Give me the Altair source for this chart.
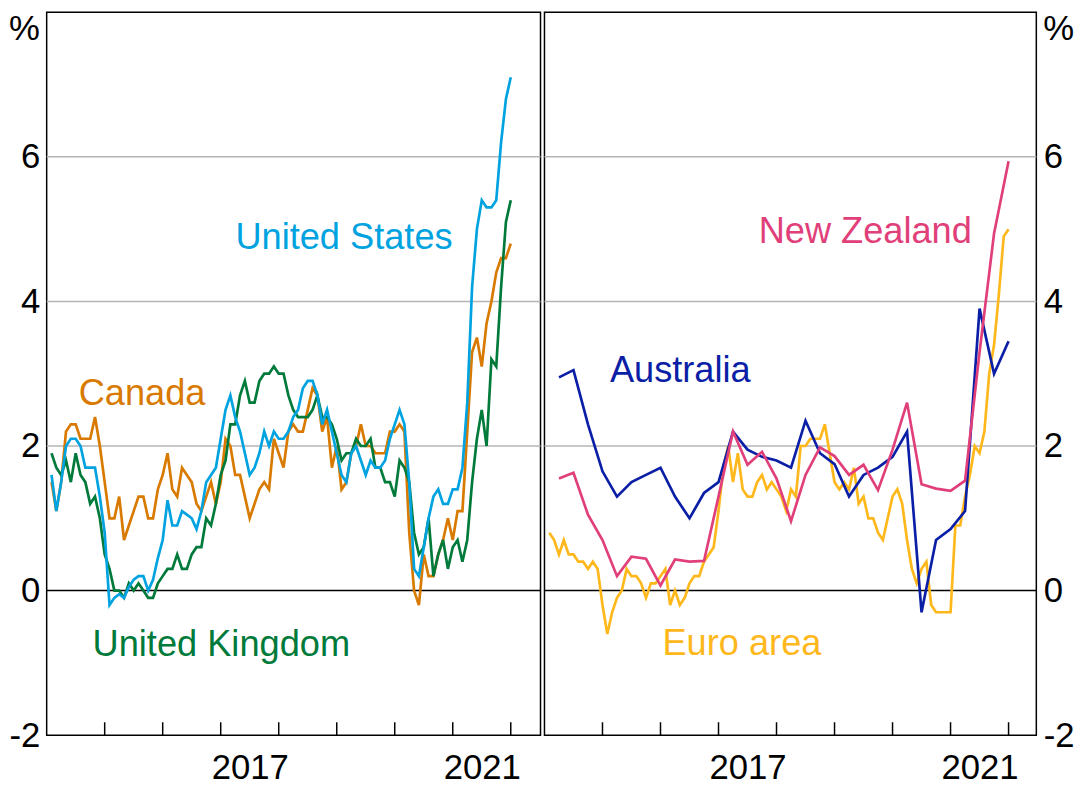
import altair as alt
import pandas as pd

# ---------------- data (year-ended % change) ----------------
# monthly, Jan 2014 .. Dec 2021
united_states = [1.6, 1.1, 1.5, 2.0, 2.1, 2.1, 2.0, 1.7, 1.7, 1.7, 1.3, 0.8,
                 -0.2, -0.1, -0.05, -0.1, 0.05, 0.15, 0.2, 0.2, 0.0, 0.15, 0.45, 0.7,
                 1.25, 0.9, 0.9, 1.1, 1.05, 1.0, 0.85, 1.1, 1.5, 1.6, 1.7, 2.1,
                 2.5, 2.7, 2.4, 2.2, 1.9, 1.6, 1.7, 1.9, 2.2, 2.0, 2.2, 2.1,
                 2.1, 2.2, 2.4, 2.5, 2.8, 2.9, 2.9, 2.7, 2.3, 2.5, 2.2, 1.9,
                 1.6, 1.5, 1.9, 2.0, 1.8, 1.6, 1.8, 1.7, 1.7, 1.8, 2.1, 2.3,
                 2.5, 2.3, 1.5, 0.3, 0.2, 0.6, 1.0, 1.3, 1.4, 1.2, 1.2, 1.4,
                 1.4, 1.7, 2.6, 4.2, 5.0, 5.4, 5.3, 5.3, 5.4, 6.2, 6.8, 7.1]
canada = [1.5, 1.1, 1.5, 2.2, 2.3, 2.3, 2.1, 2.1, 2.1, 2.4, 2.0, 1.5,
          1.0, 1.0, 1.3, 0.7, 0.9, 1.1, 1.3, 1.3, 1.0, 1.0, 1.4, 1.6,
          1.9, 1.4, 1.3, 1.7, 1.6, 1.5, 1.2, 1.1, 1.3, 1.5, 1.2, 1.5,
          2.1, 2.0, 1.6, 1.6, 1.3, 1.0, 1.2, 1.4, 1.5, 1.4, 2.1, 1.9,
          1.7, 2.2, 2.3, 2.2, 2.2, 2.5, 2.8, 2.7, 2.2, 2.4, 1.7, 2.0,
          1.4, 1.5, 1.9, 2.0, 2.3, 2.0, 2.0, 1.9, 1.9, 1.9, 2.2, 2.2,
          2.3, 2.2, 0.8, 0.0, -0.2, 0.5, 0.2, 0.2, 0.5, 0.7, 1.0, 0.7,
          1.1, 1.1, 2.2, 3.3, 3.5, 3.1, 3.7, 4.0, 4.4, 4.6, 4.6, 4.8]
united_kingdom = [1.9, 1.7, 1.6, 1.8, 1.5, 1.9, 1.6, 1.5, 1.2, 1.3, 1.0, 0.5,
                  0.3, 0.0, 0.0, -0.1, 0.1, 0.0, 0.1, 0.0, -0.1, -0.1, 0.1, 0.2,
                  0.3, 0.3, 0.5, 0.3, 0.3, 0.5, 0.6, 0.6, 1.0, 0.9, 1.2, 1.6,
                  1.8, 2.3, 2.3, 2.7, 2.9, 2.6, 2.6, 2.9, 3.0, 3.0, 3.1, 3.0,
                  3.0, 2.7, 2.5, 2.4, 2.4, 2.4, 2.5, 2.7, 2.4, 2.4, 2.3, 2.1,
                  1.8, 1.9, 1.9, 2.1, 2.0, 2.0, 2.1, 1.7, 1.7, 1.5, 1.5, 1.3,
                  1.8, 1.7, 1.5, 0.8, 0.5, 0.6, 1.0, 0.2, 0.5, 0.7, 0.3, 0.6,
                  0.7, 0.4, 0.7, 1.5, 2.1, 2.5, 2.0, 3.2, 3.1, 4.2, 5.1, 5.4]
euro_area = [0.8, 0.7, 0.5, 0.7, 0.5, 0.5, 0.4, 0.4, 0.3, 0.4, 0.3, -0.2,
             -0.6, -0.3, -0.1, 0.0, 0.3, 0.2, 0.2, 0.1, -0.1, 0.1, 0.1, 0.2,
             0.3, -0.2, 0.0, -0.2, -0.1, 0.1, 0.2, 0.2, 0.4, 0.5, 0.6, 1.1,
             1.7, 2.0, 1.5, 1.9, 1.4, 1.3, 1.3, 1.5, 1.6, 1.4, 1.5, 1.4,
             1.3, 1.1, 1.4, 1.3, 2.0, 2.0, 2.1, 2.1, 2.1, 2.3, 1.9, 1.5,
             1.4, 1.5, 1.4, 1.7, 1.2, 1.3, 1.0, 1.0, 0.8, 0.7, 1.0, 1.3,
             1.4, 1.2, 0.7, 0.3, 0.1, 0.3, 0.4, -0.2, -0.3, -0.3, -0.3, -0.3,
             0.9, 0.9, 1.3, 1.6, 2.0, 1.9, 2.2, 3.0, 3.4, 4.1, 4.9, 5.0]
# quarterly, Q1 2014 .. Q4 2021
australia = [2.95, 3.05, 2.3, 1.65, 1.3, 1.5, 1.6, 1.7,
             1.3, 1.0, 1.35, 1.5, 2.2, 1.95, 1.85, 1.8,
             1.7, 2.35, 1.9, 1.75, 1.3, 1.6, 1.7, 1.85,
             2.2, -0.3, 0.7, 0.85, 1.1, 3.9, 3.0, 3.45]
new_zealand = [1.55, 1.63, 1.05, 0.7, 0.2, 0.47, 0.44, 0.07,
               0.43, 0.4, 0.41, 1.3, 2.2, 1.74, 1.92, 1.55,
               0.96, 1.6, 1.98, 1.86, 1.6, 1.74, 1.39, 1.95,
               2.6, 1.47, 1.41, 1.38, 1.52, 3.3, 4.94, 5.94]

months = [2014 + (i + 1) / 12 for i in range(96)]
quarters = [2014 + (k + 1) / 4 for k in range(32)]
year_ticks = [2015, 2016, 2017, 2018, 2019, 2020, 2021, 2022]
year_labels = [2017.5, 2021.5]
y_labels = [-2, 0, 2, 4, 6]
grid_values = [2, 4, 6]

series_names = ["United States", "Canada", "United Kingdom",
                "Australia", "New Zealand", "Euro area"]
series_colors = ["#00A3E0", "#D97A00", "#007A3A",
                 "#0A1FA6", "#E03F7A", "#FFB81C"]

# ---------------- styling ----------------
FONT = "Liberation Sans"
H = 729
W_L, W_R = 498, 496
PX_PER_YEAR = 58.5
color_scale = alt.Scale(domain=series_names, range=series_colors)


def series_df(name, xs, vals):
    return pd.DataFrame({"t": xs, "v": vals, "series": name})


def panel(lines, labels, width, orient):
    xmax = 2014 + width / PX_PER_YEAR
    x_enc = alt.X("t:Q",
                  scale=alt.Scale(domain=[2014, xmax], nice=False, zero=False),
                  axis=alt.Axis(values=year_labels, labelExpr="floor(datum.value)",
                                ticks=False, domain=False, grid=False,
                                labelFont=FONT, labelFontSize=35, labelColor="black",
                                labelPadding=16, labelFlush=False, title=None))
    y_enc = alt.Y("v:Q",
                  scale=alt.Scale(domain=[-2, 8], nice=False, zero=False),
                  axis=alt.Axis(orient=orient, values=y_labels, ticks=False,
                                labelExpr="datum.value < 0 ? '-' + abs(datum.value) : '' + datum.value",
                                domain=False, grid=False, labelFont=FONT,
                                labelFontSize=35, labelColor="black", labelPadding=7,
                                title=None))

    grid = alt.Chart(pd.DataFrame({"v": grid_values})).mark_rule(
        color="#b5b5b5", strokeWidth=1.5).encode(y=y_enc)
    zero = alt.Chart(pd.DataFrame({"v": [0]})).mark_rule(
        color="black", strokeWidth=1.5).encode(y="v:Q")
    ticks = alt.Chart(pd.DataFrame({"t": year_ticks})).mark_rule(
        color="black", strokeWidth=1.5).encode(
        x=x_enc, y=alt.value(H), y2=alt.value(H - 13))
    if orient == "left":
        pct = alt.Chart(pd.DataFrame({"u": ["%"]})).mark_text(
            align="right", baseline="top", font=FONT, fontSize=35,
            color="black").encode(x=alt.value(-7), y=alt.value(0), text="u:N")
    else:
        pct = alt.Chart(pd.DataFrame({"u": ["%"]})).mark_text(
            align="left", baseline="top", font=FONT, fontSize=35,
            color="black").encode(x=alt.value(width + 7), y=alt.value(0), text="u:N")
    layers = [grid, zero, ticks]
    for name, xs, vals in lines:
        layers.append(alt.Chart(series_df(name, xs, vals)).mark_line(
            strokeWidth=2.7).encode(
            x="t:Q", y="v:Q",
            color=alt.Color("series:N", scale=color_scale, legend=None)))
    lab = pd.DataFrame(labels, columns=["t", "v", "series"])
    text = alt.Chart(lab).mark_text(
        align="left", baseline="alphabetic", font=FONT, fontSize=36.5).encode(
        x="t:Q", y="v:Q", text="series:N",
        color=alt.Color("series:N", scale=color_scale, legend=None))
    layers += [text, pct]
    return alt.layer(*layers).properties(width=width, height=H)


left = panel(
    [("Canada", months, canada),
     ("United Kingdom", months, united_kingdom),
     ("United States", months, united_states)],
    [(2017.253, 4.73, "United States"),
     (2014.552, 2.574, "Canada"),
     (2014.791, -0.904, "United Kingdom")],
    W_L, "left")

right = panel(
    [("Euro area", months, euro_area),
     ("Australia", quarters, australia),
     ("New Zealand", quarters, new_zealand)],
    [(2015.128, 2.881, "Australia"),
     (2017.692, 4.814, "New Zealand"),
     (2016.034, -0.896, "Euro area")],
    W_R, "right")

chart = alt.hconcat(left, right, spacing=0).properties(
    padding={"left": 0, "top": 0, "right": 0, "bottom": 0}
).configure_view(stroke="black", strokeWidth=1.5)

chart.save("out.html", embed_options={"renderer": "svg", "actions": False})
